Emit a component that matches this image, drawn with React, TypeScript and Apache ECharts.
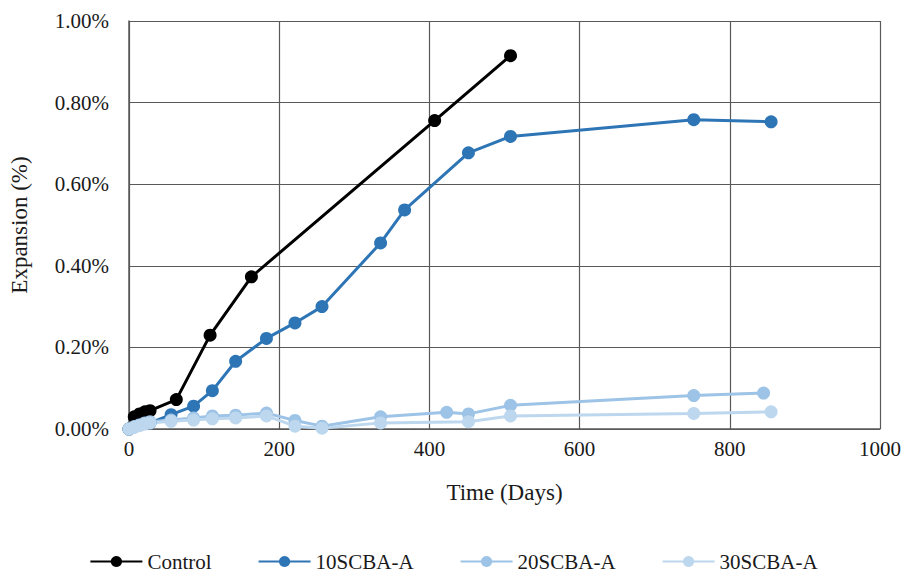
import React, { useEffect, useRef } from "react";
import * as echarts from "echarts";

const seriesNames = ["Control", "10SCBA-A", "20SCBA-A", "30SCBA-A"];
const colors = ["#000000", "#2E75B6", "#9DC3E6", "#BDD7EE"];

const controlData: [number, number][] = [
  [0, 0.0], [7, 0.03], [14, 0.037], [21, 0.042], [28, 0.045], [63, 0.072],
  [108, 0.23], [163, 0.373], [407, 0.756], [508, 0.915],
];
const scba10Data: [number, number][] = [
  [0, 0.0], [7, 0.005], [14, 0.01], [28, 0.015], [56, 0.035], [86, 0.056],
  [111, 0.094], [142, 0.166], [183, 0.222], [221, 0.26], [257, 0.3],
  [335, 0.456], [367, 0.537], [452, 0.677], [508, 0.717], [752, 0.758], [855, 0.753],
];
const scba20Data: [number, number][] = [
  [0, 0.0], [7, 0.006], [14, 0.01], [21, 0.015], [28, 0.018], [56, 0.022],
  [86, 0.027], [111, 0.032], [142, 0.034], [183, 0.039], [221, 0.021], [257, 0.007],
  [335, 0.03], [423, 0.041], [452, 0.037], [508, 0.058], [752, 0.082], [845, 0.088],
];
const scba30Data: [number, number][] = [
  [0, 0.0], [7, 0.004], [14, 0.008], [21, 0.012], [28, 0.015], [56, 0.019],
  [86, 0.022], [111, 0.025], [142, 0.027], [183, 0.032], [221, 0.007], [257, 0.002],
  [335, 0.015], [452, 0.018], [508, 0.032], [752, 0.038], [855, 0.042],
];

const xTicks = { min: 0, max: 1000, interval: 200 };
const yTicks = { min: 0, max: 1, interval: 0.2 };

const allData = [controlData, scba10Data, scba20Data, scba30Data];
const FONT = "Times New Roman, Liberation Serif, serif";

export default function App() {
  const ref = useRef<HTMLDivElement>(null);
  useEffect(() => {
    if (!ref.current) return;
    const chart = echarts.init(ref.current, undefined, { renderer: "svg" });
    chart.setOption({
      animation: false,
      backgroundColor: "#ffffff",
      textStyle: { fontFamily: FONT },
      grid: { left: 128, right: 27, top: 21, bottom: 145, containLabel: false },
      xAxis: {
        type: "value",
        min: xTicks.min,
        max: xTicks.max,
        interval: xTicks.interval,
        name: "Time (Days)",
        nameLocation: "middle",
        nameGap: 52,
        nameTextStyle: { fontFamily: FONT, fontSize: 23, color: "#1a1a1a" },
        axisLine: { show: true, lineStyle: { color: "#595959", width: 1.5 } },
        axisTick: { show: false },
        axisLabel: {
          fontFamily: FONT,
          fontSize: 21,
          color: "#1a1a1a",
          margin: 9,
          formatter: (v: number) => String(v),
        },
        splitLine: { show: true, lineStyle: { color: "#595959", width: 1.2 } },
      },
      yAxis: {
        type: "value",
        min: yTicks.min,
        max: yTicks.max,
        interval: yTicks.interval,
        name: "Expansion (%)",
        nameLocation: "middle",
        nameGap: 98,
        nameTextStyle: { fontFamily: FONT, fontSize: 23, color: "#1a1a1a" },
        axisLine: { show: true, lineStyle: { color: "#595959", width: 1.5 } },
        axisTick: { show: false },
        axisLabel: {
          fontFamily: FONT,
          fontSize: 21,
          color: "#1a1a1a",
          margin: 20,
          formatter: (v: number) => v.toFixed(2) + "%",
        },
        splitLine: { show: true, lineStyle: { color: "#595959", width: 1.2 } },
      },
      legend: {
        top: 546,
        left: "center",
        itemWidth: 52,
        itemHeight: 14,
        itemGap: 46,
        textStyle: { fontFamily: FONT, fontSize: 21, color: "#1a1a1a" },
        data: seriesNames,
      },
      series: seriesNames.map((name, i) => ({
        name,
        type: "line",
        data: allData[i],
        color: colors[i],
        symbol: "circle",
        symbolSize: 13,
        lineStyle: { width: 3, color: colors[i] },
        itemStyle: { color: colors[i] },
      })),
    });
    return () => chart.dispose();
  }, []);
  return (
    <div
      ref={ref}
      style={{ position: "absolute", left: 0, top: 0, width: 907, height: 574 }}
    />
  );
}
